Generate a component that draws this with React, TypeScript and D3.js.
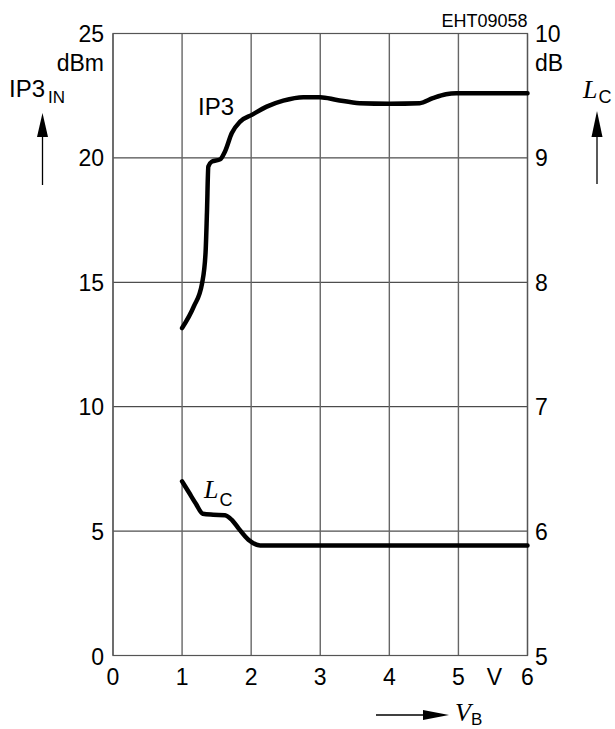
import React from "react";
import * as d3 from "d3";

const xTicks = [0, 1, 2, 3, 4, 5, 6];
const xTickLabels = ["0", "1", "2", "3", "4", "5", "6"];
const leftTicks = [0, 5, 10, 15, 20, 25];
const rightTicks = [5, 6, 7, 8, 9, 10];

const ip3X = [1.0, 1.17, 1.29, 1.34, 1.36, 1.38, 1.43, 1.55, 1.62, 1.72, 1.84, 2.01, 2.225, 2.465, 2.755, 3.0, 3.24, 3.57, 4.0, 4.44, 4.63, 4.82, 4.97, 5.5, 6.0];
const ip3Y = [13.16, 14.03, 14.97, 16.2, 17.8, 19.65, 19.85, 19.94, 20.25, 21.0, 21.46, 21.73, 22.06, 22.3, 22.44, 22.44, 22.33, 22.2, 22.18, 22.2, 22.4, 22.56, 22.6, 22.6, 22.6];

const lcX = [1.0, 1.1, 1.2, 1.3, 1.45, 1.62, 1.72, 1.82, 1.96, 2.13, 3.0, 4.0, 5.0, 6.0];
const lcY = [6.4, 6.31, 6.22, 6.14, 6.132, 6.128, 6.09, 6.02, 5.93, 5.885, 5.885, 5.885, 5.885, 5.885];

const W = 615;
const H = 729;
const L = 113;
const R = 527.5;
const T = 33.5;
const B = 655.5;

const SANS = "'Liberation Sans', Arial, Helvetica, sans-serif";
const SERIF = "'Liberation Serif', 'Times New Roman', serif";

export default function App() {
  const x = d3.scaleLinear().domain([0, 6]).range([L, R]);
  const yL = d3.scaleLinear().domain([0, 25]).range([B, T]);
  const yR = d3.scaleLinear().domain([5, 10]).range([B, T]);

  const ip3Data = ip3X.map((v, i) => [v, ip3Y[i]] as [number, number]);
  const lcData = lcX.map((v, i) => [v, lcY[i]] as [number, number]);

  const ip3Line = d3
    .line<[number, number]>()
    .x((d) => x(d[0]))
    .y((d) => yL(d[1]))
    .curve(d3.curveMonotoneX);
  const lcLine = d3
    .line<[number, number]>()
    .x((d) => x(d[0]))
    .y((d) => yR(d[1]))
    .curve(d3.curveMonotoneX);

  return (
    <svg
      width={W}
      height={H}
      style={{ position: "absolute", left: 0, top: 0, background: "#fff" }}
      fontFamily={SANS}
    >
      <rect x={0} y={0} width={W} height={H} fill="#fff" />
      {/* horizontal grid */}
      {leftTicks.map((t) => (
        <line key={"h" + t} x1={L} x2={R} y1={yL(t)} y2={yL(t)} stroke="#222" strokeWidth={1} />
      ))}
      {/* vertical grid */}
      {xTicks.map((t) => (
        <line key={"v" + t} x1={x(t)} x2={x(t)} y1={T} y2={B} stroke="#666" strokeWidth={1.4} />
      ))}
      <rect x={L} y={T} width={R - L} height={B - T} fill="none" stroke="#555" strokeWidth={1.2} />

      {/* curves */}
      <path d={ip3Line(ip3Data) || ""} fill="none" stroke="#000" strokeWidth={4.5} strokeLinejoin="round" strokeLinecap="round" />
      <path d={lcLine(lcData) || ""} fill="none" stroke="#000" strokeWidth={4.5} strokeLinejoin="round" strokeLinecap="round" />

      {/* left tick labels */}
      {leftTicks.map((t) => (
        <text key={"lt" + t} x={L - 9} y={t === 0 ? yL(t) + 9.5 : yL(t) + 8.5} textAnchor="end" fontSize={23}>
          {t}
        </text>
      ))}
      {/* right tick labels */}
      {rightTicks.map((t) => (
        <text key={"rt" + t} x={R + 7.5} y={t === 5 ? yR(t) + 9.5 : yR(t) + 8.5} textAnchor="start" fontSize={23}>
          {t}
        </text>
      ))}
      {/* x tick labels */}
      {xTicks.map((t, i) => (
        <text key={"xt" + t} x={x(t)} y={B + 29} textAnchor="middle" fontSize={23}>
          {xTickLabels[i]}
        </text>
      ))}
      <text x={x(5.52)} y={B + 29} textAnchor="middle" fontSize={23}>V</text>

      {/* units */}
      <text x={L - 9} y={71} textAnchor="end" fontSize={23}>dBm</text>
      <text x={R + 7.5} y={71} textAnchor="start" fontSize={23}>dB</text>
      <text x={R} y={27} textAnchor="end" fontSize={18}>EHT09058</text>

      {/* left axis title */}
      <text x={9} y={97} fontSize={24}>
        IP3<tspan fontSize={17} dx={3} dy={6}>IN</tspan>
      </text>
      <line x1={42.5} x2={42.5} y1={185} y2={130} stroke="#000" strokeWidth={1.3} />
      <path d="M37,137 L42.5,113 L48,137 Z" fill="#000" />

      {/* right axis title */}
      <text x={583} y={98} fontSize={26} fontFamily={SERIF} fontStyle="italic">
        L<tspan fontFamily={SANS} fontStyle="normal" fontSize={18} dx={1} dy={5}>C</tspan>
      </text>
      <line x1={597} x2={597} y1={184} y2={130} stroke="#000" strokeWidth={1.3} />
      <path d="M591.5,137 L597,111 L602.5,137 Z" fill="#000" />

      {/* x axis title */}
      <line x1={376} x2={430} y1={715} y2={715} stroke="#000" strokeWidth={1.3} />
      <path d="M423,710 L449,715 L423,720 Z" fill="#000" />
      <text x={455} y={721} fontSize={26} fontFamily={SERIF} fontStyle="italic">
        V<tspan fontFamily={SANS} fontStyle="normal" fontSize={17} dx={0} dy={4}>B</tspan>
      </text>

      {/* curve labels */}
      <text x={198} y={115} fontSize={24}>IP3</text>
      <text x={204} y={498} fontSize={26} fontFamily={SERIF} fontStyle="italic">
        L<tspan fontFamily={SANS} fontStyle="normal" fontSize={18} dx={1} dy={8}>C</tspan>
      </text>
    </svg>
  );
}
